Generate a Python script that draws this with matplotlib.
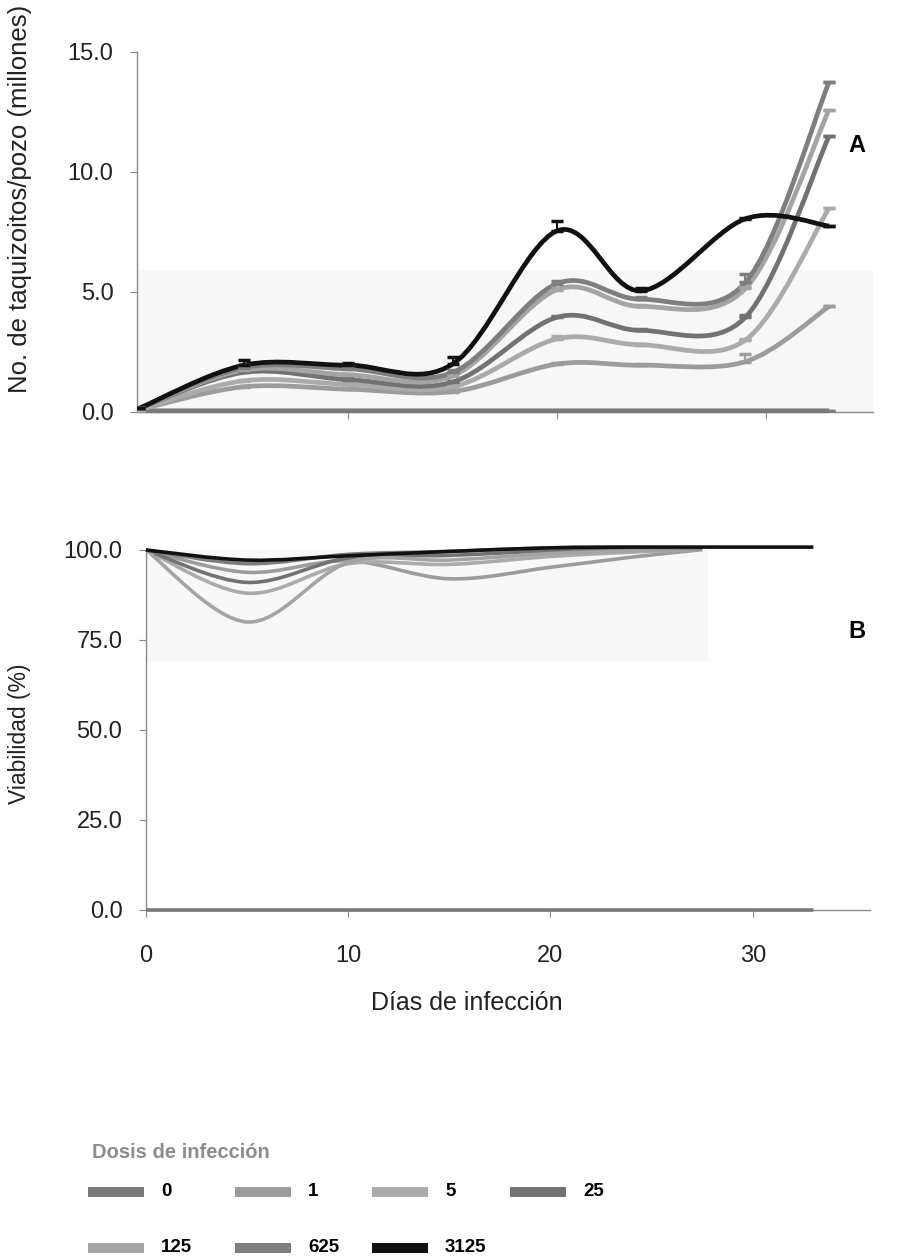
import matplotlib
matplotlib.use("Agg")
import matplotlib.pyplot as plt
from matplotlib.path import Path
from matplotlib.patches import PathPatch, Rectangle

plt.rcParams['font.family'] = ['Liberation Sans', 'DejaVu Sans']

# doses and days of infection
doses = ["0", "1", "5", "25", "125", "625", "3125"]
colors = ["#7a7a7a", "#9c9c9c", "#ababab", "#727272", "#a4a4a4", "#7e7e7e", "#111111"]

days_a = [0, 5, 10, 15, 20, 24, 29, 33]

# panel A: tachyzoites per well (millions)
tq_0 = [0.05, 0.05, 0.05, 0.05, 0.05, 0.05, 0.05, 0.05]
tq_1 = [0.1, 1.05, 0.95, 0.85, 2.0, 1.95, 2.1, 4.4]
tq_5 = [0.1, 1.3, 1.15, 1.05, 3.05, 2.8, 3.0, 8.5]
tq_25 = [0.15, 1.65, 1.35, 1.25, 3.95, 3.4, 3.95, 11.5]
tq_125 = [0.15, 1.75, 1.55, 1.5, 5.1, 4.4, 5.15, 12.6]
tq_625 = [0.15, 1.85, 1.8, 1.65, 5.35, 4.7, 5.4, 13.75]
tq_3125 = [0.15, 1.95, 1.95, 2.0, 7.55, 5.05, 8.05, 7.75]

# upper error bars, panel A
err_0 = [0, 0, 0, 0, 0, 0, 0, 0]
err_1 = [0, 0.05, 0.05, 0.05, 0.05, 0.05, 0.3, 0]
err_5 = [0, 0.05, 0.05, 0.05, 0.1, 0.05, 0.05, 0]
err_25 = [0, 0.05, 0.05, 0.05, 0.05, 0.05, 0.1, 0]
err_125 = [0, 0.05, 0.05, 0.05, 0.05, 0.05, 0.05, 0]
err_625 = [0, 0.1, 0.1, 0.1, 0.1, 0.1, 0.35, 0]
err_3125 = [0, 0.2, 0.1, 0.3, 0.4, 0.1, 0.05, 0]

# panel B: viability (%)
days_b = [0, 5, 10, 15, 20, 24, 27.5]
days_b_long = [0, 5, 10, 15, 20, 24, 29, 33]
via_0 = [0, 0, 0, 0, 0, 0, 0, 0]
via_1 = [100, 93.8, 97.0, 92.0, 95.2, 98.0, 100.1]
via_5 = [100, 88, 96.2, 96.0, 98.2, 99.4, 100.2]
via_25 = [100, 91, 97.8, 98.5, 99.8, 100.3, 100.4]
via_125 = [100, 80, 96.5, 97.2, 99.0, 99.8, 100.3]
via_625 = [100, 96.2, 98.8, 99.6, 100.6, 100.7, 100.5]
via_3125 = [100, 97.2, 98.4, 99.6, 100.6, 100.8, 100.8, 100.8]

tq = [tq_0, tq_1, tq_5, tq_25, tq_125, tq_625, tq_3125]
errs = [err_0, err_1, err_5, err_25, err_125, err_625, err_3125]
via = [via_0, via_1, via_5, via_25, via_125, via_625, via_3125]
via_days = [days_b_long, days_b, days_b, days_b, days_b, days_b, days_b_long]

W, H = 898, 1260


def smooth_path(xs, ys):
    # excel-like smoothed line as cubic bezier segments
    pts = list(zip(xs, ys))
    verts = [pts[0]]
    codes = [Path.MOVETO]
    n = len(pts)
    for i in range(n - 1):
        p0 = pts[i - 1] if i > 0 else pts[i]
        p1 = pts[i]
        p2 = pts[i + 1]
        p3 = pts[i + 2] if i + 2 < n else pts[i + 1]
        c1 = (p1[0] + (p2[0] - p0[0]) / 6, p1[1] + (p2[1] - p0[1]) / 6)
        c2 = (p2[0] - (p3[0] - p1[0]) / 6, p2[1] - (p3[1] - p1[1]) / 6)
        verts += [c1, c2, p2]
        codes += [Path.CURVE4] * 3
    return Path(verts, codes)


def style_axes(ax):
    for s in ["top", "right"]:
        ax.spines[s].set_visible(False)
    for s in ["left", "bottom"]:
        ax.spines[s].set_color("#8a8a8a")
        ax.spines[s].set_linewidth(1.0)
    ax.tick_params(direction="out", length=5, color="#8a8a8a", labelsize=17, labelcolor="#222222", pad=12)


fig = plt.figure(figsize=(W / 100, H / 100), dpi=100)

# panel A
axA = fig.add_axes([137 / W, 1 - 412 / H, 736 / W, 360 / H])
style_axes(axA)
axA.set_xlim(-0.1, 35.1)
axA.set_ylim(0, 15)
axA.axhspan(0, 5.9, color="#f7f7f7", zorder=0, lw=0)
for vals, err, c in zip(tq, errs, colors):
    axA.add_patch(PathPatch(smooth_path(days_a, vals), fill=False, edgecolor=c, lw=3.4, clip_on=False, zorder=3))
    axA.errorbar(days_a, vals, yerr=[[0] * len(err), err], fmt="none", ecolor=c, elinewidth=1.5,
                 capsize=4.5, capthick=2.5, zorder=4)
axA.set_yticks([0, 5, 10, 15])
axA.set_yticklabels(["0.0", "5.0", "10.0", "15.0"])
axA.set_xticks([10, 20, 30])
axA.set_xticklabels([])

# panel B
axB = fig.add_axes([146 / W, 1 - 910 / H, 724 / W, 360 / H])
style_axes(axB)
axB.set_xlim(0, 35.8)
axB.set_ylim(0, 100)
axB.fill_between([0, 27.8], 69, 100.6, color="#f8f8f8", zorder=0, lw=0)
for d, vals, c in zip(via_days, via, colors):
    axB.add_patch(PathPatch(smooth_path(d, vals), fill=False, edgecolor=c, lw=2.6, clip_on=False, zorder=3))
axB.set_yticks([0, 25, 50, 75, 100])
axB.set_yticklabels(["0.0", "25.0", "50.0", "75.0", "100.0"])
axB.set_xticks([0, 10, 20, 30])
axB.tick_params(axis="x", pad=20)

fig.text(467 / W, 1 - 1003 / H, "Días de infección", fontsize=18, color="#222222", ha="center", va="center")
fig.text(857 / W, 1 - 145 / H, "A", fontsize=17, fontweight="bold", ha="center", va="center")
fig.text(857 / W, 1 - 632 / H, "B", fontsize=17, fontweight="bold", ha="center", va="center")
fig.text(20 / W, 1 - 199 / H, "No. de taquizoitos/pozo (millones)", rotation=90,
         ha="center", va="center", fontsize=18.5, color="#222222")
fig.text(20 / W, 1 - 734 / H, "Viabilidad (%)", rotation=90,
         ha="center", va="center", fontsize=16.5, color="#222222")

# legend drawn as excel-style grid: rows 0 1 5 25 / 125 625 3125
fig.text(92 / W, 1 - 1152 / H, "Dosis de infección", fontsize=14.5, fontweight="bold",
         color="#8c8c8c", ha="left", va="center")
leg_cols = [88, 235, 372, 510]
leg_rows = [1192, 1248]
for k, (lab, c) in enumerate(zip(doses, colors)):
    r, col = divmod(k, 4)
    x0, y0 = leg_cols[col], leg_rows[r]
    fig.add_artist(Rectangle((x0 / W, 1 - (y0 + 5) / H), 56 / W, 10 / H, transform=fig.transFigure,
                             facecolor=c, edgecolor="none"))
    fig.text((x0 + 73) / W, 1 - y0 / H, lab, fontsize=13.5, fontweight="bold", ha="left", va="center")

fig.savefig("out.png", dpi=100)
